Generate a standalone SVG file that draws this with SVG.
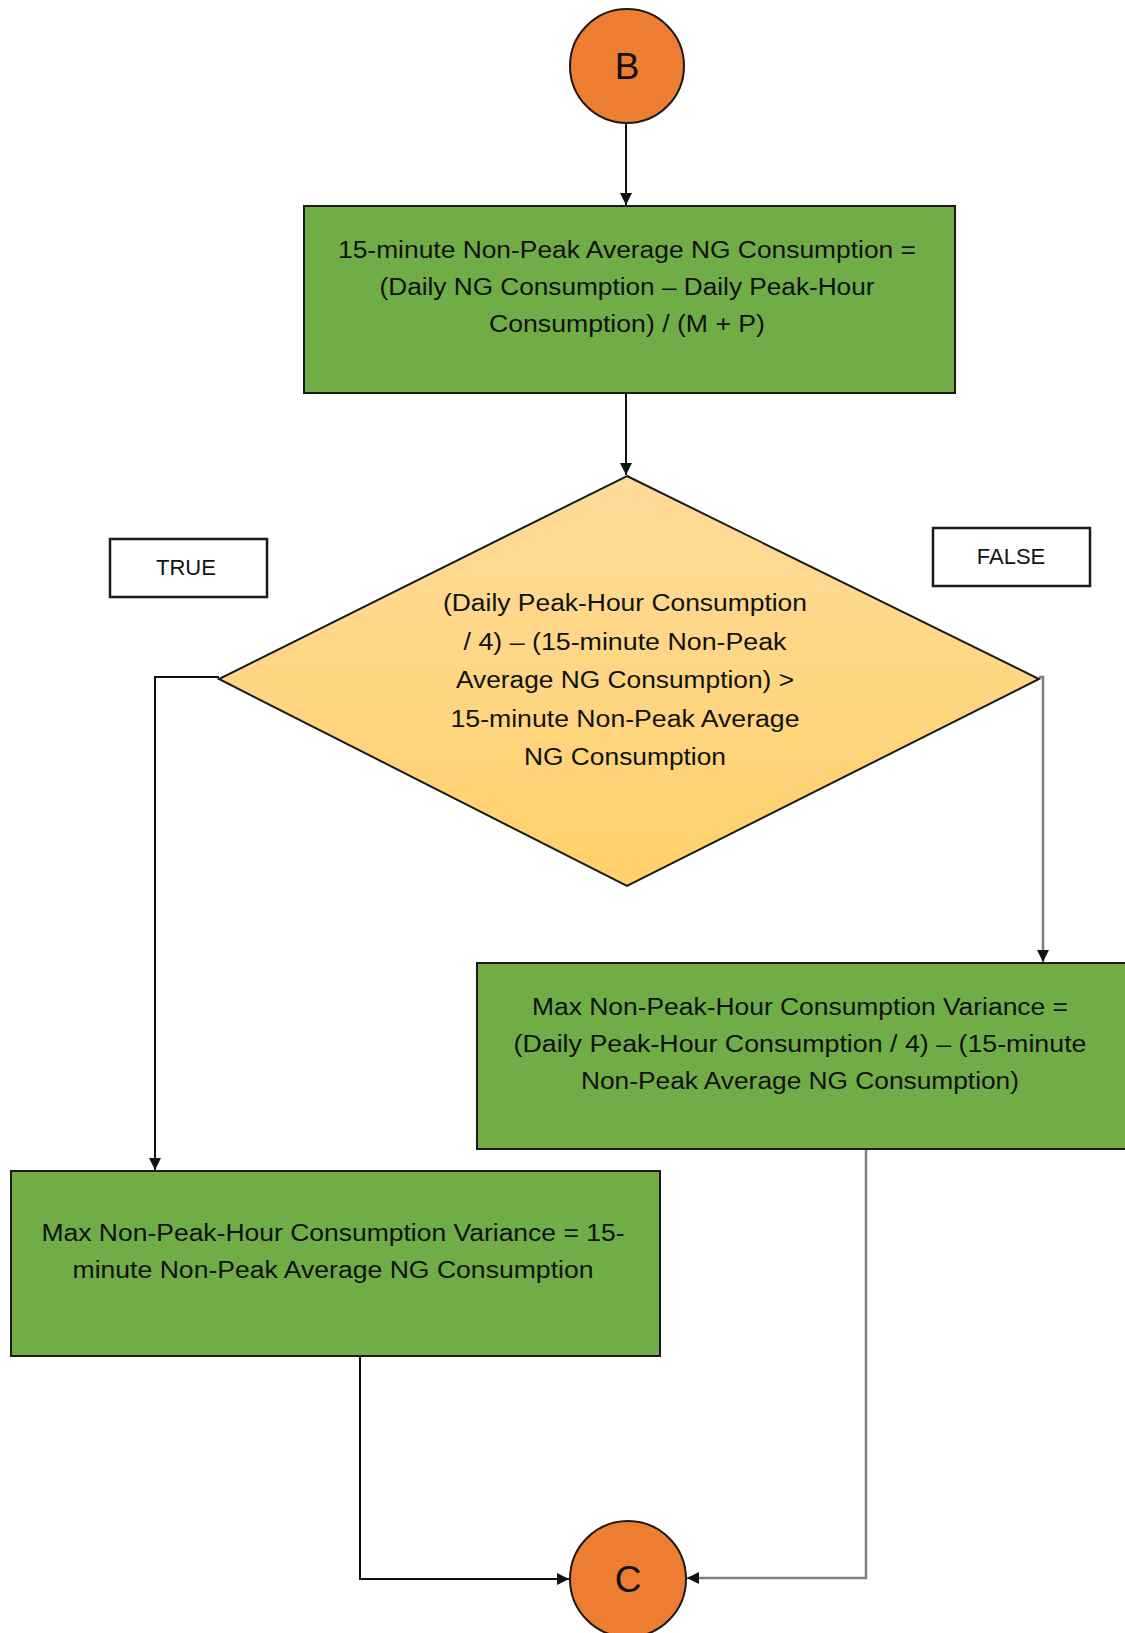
<svg xmlns="http://www.w3.org/2000/svg" width="1125" height="1633" viewBox="0 0 1125 1633">
  <style>
    .proc { fill: #70ad47; stroke: #1a1a1a; stroke-width: 2; }
    .term { fill: #ed7d31; stroke: #1a1a1a; stroke-width: 2; }
    .label { fill: #ffffff; stroke: #1a1a1a; stroke-width: 2.5; }
    .txt { font-family: "Liberation Sans", Arial, sans-serif; font-size: 23px; fill: #111111; text-anchor: middle; }
    .tag { font-family: "Liberation Sans", Arial, sans-serif; font-size: 22px; fill: #111111; text-anchor: middle; }
    .big { font-family: "Liberation Sans", Arial, sans-serif; font-size: 37px; fill: #111111; text-anchor: middle; }
    .edge { fill: none; stroke: #111111; stroke-width: 2; }
    .edge-grey { fill: none; stroke: #7f7f7f; stroke-width: 2.5; }
  </style>
  <defs>
    <marker id="arrow" viewBox="0 0 10 10" refX="10" refY="5" markerWidth="12" markerHeight="12" markerUnits="userSpaceOnUse" orient="auto">
      <path d="M0,0 L10,5 L0,10 z" fill="#111111"/>
    </marker>
    <linearGradient id="gold" x1="0" y1="0" x2="0" y2="1">
      <stop offset="0" stop-color="#fedb9a"/>
      <stop offset="1" stop-color="#ffd16a"/>
    </linearGradient>
  </defs>

  <rect width="1125" height="1633" fill="#ffffff"/>

  <!-- connectors -->
  <g id="connectors">
    <line class="edge" x1="626" y1="123" x2="626" y2="205" marker-end="url(#arrow)"/>
    <line class="edge" x1="626" y1="393" x2="626" y2="475" marker-end="url(#arrow)"/>
    <polyline class="edge" points="219,677 155,677 155,1170" marker-end="url(#arrow)"/>
    <polyline class="edge-grey" points="1039,677 1043,677 1043,962" marker-end="url(#arrow)"/>
    <polyline class="edge" points="360,1356 360,1579 569,1579" marker-end="url(#arrow)"/>
    <polyline class="edge-grey" points="866,1149 866,1578 687,1578" marker-end="url(#arrow)"/>
  </g>

  <!-- start connector B -->
  <g id="node-b">
    <circle class="term" cx="627" cy="66" r="57"/>
    <text class="big" x="627" y="79">B</text>
  </g>

  <!-- non-peak average computation -->
  <g id="node-average">
    <rect class="proc" x="304" y="206" width="651" height="187"/>
    <text class="txt" x="627" y="258" textLength="578" lengthAdjust="spacingAndGlyphs">15-minute Non-Peak Average NG Consumption =</text>
    <text class="txt" x="627" y="295" textLength="495" lengthAdjust="spacingAndGlyphs">(Daily NG Consumption – Daily Peak-Hour</text>
    <text class="txt" x="627" y="332" textLength="276" lengthAdjust="spacingAndGlyphs">Consumption) / (M + P)</text>
  </g>

  <!-- decision -->
  <g id="node-decision">
    <polygon points="627,476 1039,679 627,886 219,679" fill="url(#gold)" stroke="#1a1a1a" stroke-width="2"/>
    <text class="txt" x="625" y="611" textLength="364" lengthAdjust="spacingAndGlyphs">(Daily Peak-Hour Consumption</text>
    <text class="txt" x="625" y="650" textLength="323" lengthAdjust="spacingAndGlyphs">/ 4) – (15-minute Non-Peak</text>
    <text class="txt" x="625" y="688" textLength="338" lengthAdjust="spacingAndGlyphs">Average NG Consumption) &gt;</text>
    <text class="txt" x="625" y="727" textLength="349" lengthAdjust="spacingAndGlyphs">15-minute Non-Peak Average</text>
    <text class="txt" x="625" y="765" textLength="202" lengthAdjust="spacingAndGlyphs">NG Consumption</text>
  </g>

  <!-- branch labels -->
  <g id="label-true">
    <rect class="label" x="110" y="539" width="157" height="58"/>
    <text class="tag" x="186" y="575">TRUE</text>
  </g>
  <g id="label-false">
    <rect class="label" x="933" y="528" width="157" height="58"/>
    <text class="tag" x="1011" y="564">FALSE</text>
  </g>

  <!-- false branch result -->
  <g id="node-variance-false">
    <rect class="proc" x="477" y="963" width="660" height="186"/>
    <text class="txt" x="800" y="1015" textLength="536" lengthAdjust="spacingAndGlyphs">Max Non-Peak-Hour Consumption Variance =</text>
    <text class="txt" x="800" y="1052" textLength="573" lengthAdjust="spacingAndGlyphs">(Daily Peak-Hour Consumption / 4) – (15-minute</text>
    <text class="txt" x="800" y="1089" textLength="438" lengthAdjust="spacingAndGlyphs">Non-Peak Average NG Consumption)</text>
  </g>

  <!-- true branch result -->
  <g id="node-variance-true">
    <rect class="proc" x="11" y="1171" width="649" height="185"/>
    <text class="txt" x="333" y="1241" textLength="583" lengthAdjust="spacingAndGlyphs">Max Non-Peak-Hour Consumption Variance = 15-</text>
    <text class="txt" x="333" y="1278" textLength="521" lengthAdjust="spacingAndGlyphs">minute Non-Peak Average NG Consumption</text>
  </g>

  <!-- end connector C -->
  <g id="node-c">
    <circle class="term" cx="628" cy="1579" r="58"/>
    <text class="big" x="628" y="1592">C</text>
  </g>
</svg>
